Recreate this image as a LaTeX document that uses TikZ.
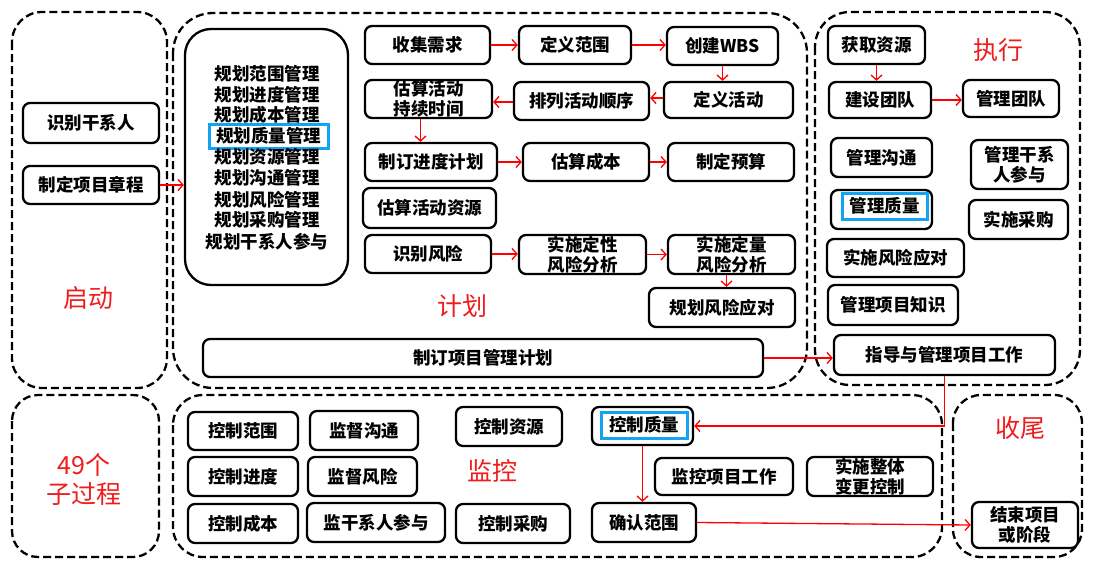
\documentclass[tikz,border=0pt]{standalone}
\usepackage{fontspec}
\setmainfont{Noto Sans CJK SC}
\usetikzlibrary{arrows.meta}
\definecolor{hlblue}{HTML}{12A4F2}
\definecolor{tagred}{HTML}{EE1C1C}

\tikzset{
  proc/.style={draw=black, line width=2.3pt, rounded corners=7pt, inner sep=0pt,
               align=center, font=\fontsize{17.5}{20}\selectfont\bfseries},
  wh/.style 2 args={minimum width=#1pt, minimum height=#2pt},
  item/.style={inner sep=0pt, font=\fontsize{17.5}{20}\selectfont\bfseries},
  hlframe/.style={draw=hlblue, line width=3pt, inner sep=0pt,
                  font=\fontsize{17.5}{20}\selectfont\bfseries},
  phase/.style={draw=black, line width=2.3pt, dash pattern=on 8pt off 4pt},
  tag/.style={text=tagred, inner sep=0pt, align=center, font=\fontsize{25}{29}\selectfont},
  flow/.style={draw=red, line width=1.3pt, -{Straight Barb[length=5pt,width=11pt]}}
}

\begin{document}
\begin{tikzpicture}[x=1pt, y=-1pt]
\useasboundingbox (0,0) rectangle (1095,570);

% ---- process groups (dashed frames) ----
\draw[phase, rounded corners=30pt] (12,12) rectangle (167,388);
\draw[phase, rounded corners=40pt] (173,13) rectangle (807,388);
\draw[phase, rounded corners=35pt] (815,12) rectangle (1080,385);
\draw[phase, rounded corners=26pt] (12,395) rectangle (159,557);
\draw[phase, rounded corners=30pt] (173,395) rectangle (942,557);
\draw[phase, rounded corners=28pt] (953,395) rectangle (1082,557);

% ---- group titles ----
\node[tag] (tqd) at (88,298) {启动};
\node[tag] (tjh) at (462,306) {计划};
\node[tag] (tzx) at (998,50) {执行};
\node[tag] (tjk) at (492,471) {监控};
\node[tag] (tsw) at (1020,428) {收尾};
\node[tag] (t49) at (84,479) {49个\\子过程};

% ---- initiating ----
\node[proc, wh={136}{40}] (sh) at (91,123) {识别干系人};
\node[proc, wh={136}{38}] (zc) at (91,185) {制定项目章程};

% ---- planning: management plans ----
\node[proc, wh={163}{256}, rounded corners=26pt] (plist) at (266.5,157) {};
\node[item] (p1) at (267,74) {规划范围管理};
\node[item] (p2) at (267,95) {规划进度管理};
\node[item] (p3) at (267,115) {规划成本管理};
\node[hlframe, wh={119}{24}] (p4) at (268.5,136) {规划质量管理};
\node[item] (p5) at (267,157) {规划资源管理};
\node[item] (p6) at (267,178) {规划沟通管理};
\node[item] (p7) at (267,200) {规划风险管理};
\node[item] (p8) at (267,220) {规划采购管理};
\node[item] (p9) at (267,242) {规划干系人参与};

% ---- planning: processes ----
\node[proc, wh={125}{38}] (sj) at (427.5,45) {收集需求};
\node[proc, wh={112}{38}] (dy) at (575,45) {定义范围};
\node[proc, wh={111}{38}] (wbs) at (722.5,46) {创建WBS};
\node[proc, wh={129}{36}] (dh) at (728.5,100) {定义活动};
\node[proc, wh={135}{38}] (pl) at (581.5,101) {排列活动顺序};
\node[proc, wh={127}{38}] (gs) at (428.5,99) {估算活动\\持续时间};
\node[proc, wh={132}{38}] (jd) at (431,162) {制订进度计划};
\node[proc, wh={126}{38}] (cb) at (586,162) {估算成本};
\node[proc, wh={126}{38}] (ys) at (731,162) {制定预算};
\node[proc, wh={133}{40}] (zy) at (429.5,208) {估算活动资源};
\node[proc, wh={126}{38}] (fx) at (428,254) {识别风险};
\node[proc, wh={127}{39}] (dx) at (582.5,254.5) {实施定性\\风险分析};
\node[proc, wh={127}{39}] (dl) at (731.5,254.5) {实施定量\\风险分析};
\node[proc, wh={146}{39}] (yd) at (722,307.5) {规划风险应对};
\node[proc, wh={560}{38}] (pm) at (483,358) {制订项目管理计划};

% ---- executing ----
\node[proc, wh={97}{38}] (hq) at (876.5,45) {获取资源};
\node[proc, wh={102}{36}] (js) at (880,100) {建设团队};
\node[proc, wh={96}{37}] (gt) at (1011,98.5) {管理团队};
\node[proc, wh={101}{39}] (gg) at (881.5,157.5) {管理沟通};
\node[proc, wh={97}{49}] (gx) at (1019.5,164.5) {管理干系\\人参与};
\node[proc, wh={101}{39}] (gz) at (881.5,209.5) {};
\node[hlframe, wh={85}{26}] (gzt) at (884.5,206) {管理质量};
\node[proc, wh={99}{39}] (sc) at (1018.5,219.5) {实施采购};
\node[proc, wh={137}{38}] (sf) at (895.5,258) {实施风险应对};
\node[proc, wh={130}{40}] (zs) at (893,305) {管理项目知识};
\node[proc, wh={221}{40}] (zd) at (944.5,355) {指导与管理项目工作};

% ---- monitoring & controlling ----
\node[proc, wh={110}{38}] (kf) at (243,431) {控制范围};
\node[proc, wh={110}{39}] (kj) at (243,476.5) {控制进度};
\node[proc, wh={110}{39}] (kc) at (243,523.5) {控制成本};
\node[proc, wh={108}{39}] (jg) at (364,430.5) {监督沟通};
\node[proc, wh={109}{39}] (jf) at (362.5,476.5) {监督风险};
\node[proc, wh={138}{39}] (jx) at (376,522.5) {监干系人参与};
\node[proc, wh={106}{39}] (kz) at (509,426.5) {控制资源};
\node[proc, wh={114}{39}] (kg) at (513,523.5) {控制采购};
\node[proc, wh={101}{38}] (kq) at (642.5,426) {};
\node[hlframe, wh={86}{26}] (kqt) at (644,425) {控制质量};
\node[proc, wh={104}{39}] (qr) at (644,522.5) {确认范围};
\node[proc, wh={138}{37}] (jk) at (724,476.5) {监控项目工作};
\node[proc, wh={126}{39}] (bg) at (870,476.5) {实施整体\\变更控制};

% ---- closing ----
\node[proc, wh={106}{46}] (jsx) at (1025,525) {结束项目\\或阶段};

% ---- flows ----
\draw[flow] (zc.east) -- (zc.east -| plist.west);
\draw[flow] (sj.east) -- (dy.west);
\draw[flow] (dy.east) -- (dy.east -| wbs.west);
\draw[flow] (wbs.south) -- (wbs.south |- dh.north);
\draw[flow] ([yshift=2pt]dh.west) -- ([yshift=2pt]dh.west -| pl.east);
\draw[flow] ([yshift=-1pt]pl.west) -- ([yshift=-1pt]pl.west -| gs.east);
\draw[flow] ([xshift=-8pt]gs.south) -- ([xshift=-8pt]gs.south |- jd.north);
\draw[flow] (jd.east) -- (cb.west);
\draw[flow] (cb.east) -- (ys.west);
\draw[flow] (fx.east) -- (fx.east -| dx.west);
\draw[flow] (dx.east) -- (dl.west);
\draw[flow] ([xshift=-5pt]dl.south) -- ([xshift=-5pt]dl.south |- yd.north);
\draw[flow] (pm.east) -- (pm.east -| zd.west);
\draw[flow] (hq.south) -- (hq.south |- js.north);
\draw[flow] (js.east) -- (js.east -| gt.west);
\draw[flow] (zd.south) |- (kq.east);
\draw[flow] (kq.south) -- (kq.south |- qr.north);
\draw[flow] (qr.east) -- (jsx.west);
\end{tikzpicture}
\end{document}
